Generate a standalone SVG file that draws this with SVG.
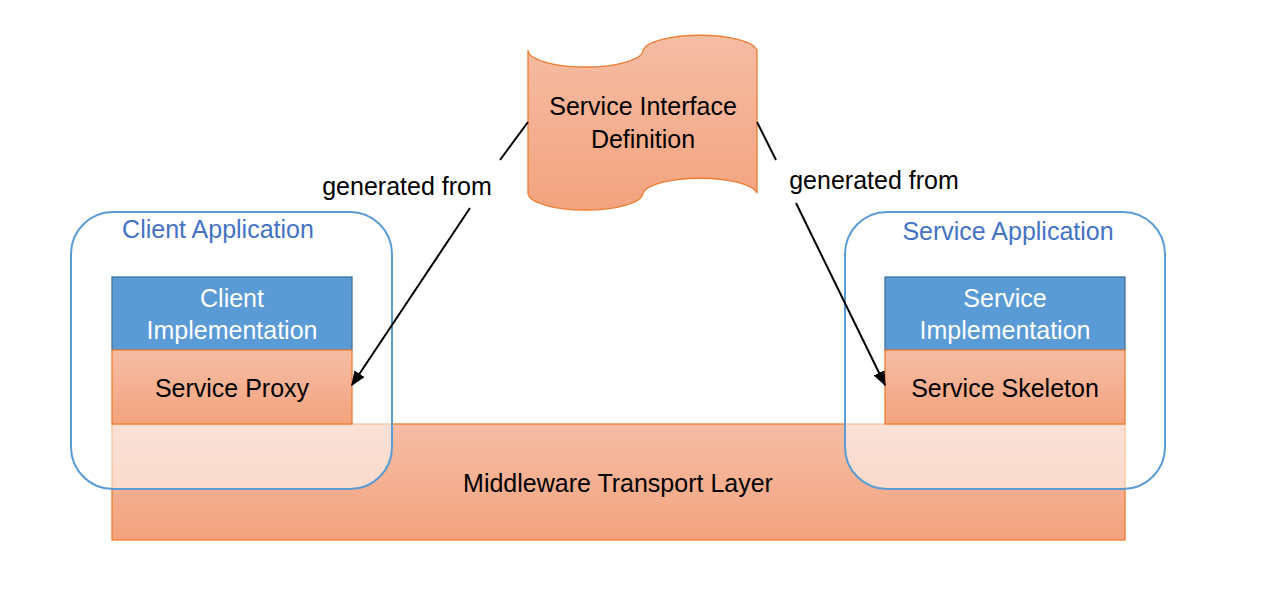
<svg xmlns="http://www.w3.org/2000/svg" width="1288" height="606" viewBox="0 0 1288 606">
<defs>
<linearGradient id="og" x1="0" y1="0" x2="0" y2="1">
<stop offset="0" stop-color="#f6bda5"/>
<stop offset="1" stop-color="#f3a37e"/>
</linearGradient>
<marker id="ah" viewBox="0 0 10 10" refX="9" refY="5" markerWidth="15" markerHeight="12" markerUnits="userSpaceOnUse" orient="auto" preserveAspectRatio="none">
<path d="M0,0 L10,5 L0,10 Z" fill="#000"/>
</marker>
<style>
.t{font-family:"Liberation Sans",Arial,sans-serif;font-size:25px;text-anchor:middle;fill:#000}
.w{fill:#fff}
.b{fill:#4472c4}
.orange{fill:url(#og);stroke:#ed7d31;stroke-width:1.3}
.blue{fill:#5b9bd5;stroke:#41719c;stroke-width:1.3}
.cont{fill:#fff;fill-opacity:0.55;stroke:#5b9bd5;stroke-width:2}
.conn{stroke:#000;stroke-width:2;fill:none}
</style>
</defs>
<rect width="1288" height="606" fill="#fff"/>
<g id="middleware">
<rect class="orange" x="112" y="424" width="1013" height="116"/>
<text class="t" x="618" y="492">Middleware Transport Layer</text>
</g>
<g id="client-app">
<rect class="cont" x="71" y="212" width="321" height="277" rx="42"/>
<text class="t b" x="218" y="238">Client Application</text>
</g>
<g id="service-app">
<rect class="cont" x="845" y="212" width="320" height="277" rx="42"/>
<text class="t b" x="1008" y="240">Service Application</text>
</g>
<g id="client-impl">
<rect class="blue" x="112" y="277" width="240" height="73"/>
<text class="t w" x="232" y="307">Client</text>
<text class="t w" x="232" y="339">Implementation</text>
</g>
<g id="service-proxy">
<rect class="orange" x="112" y="350" width="240" height="74"/>
<text class="t" x="232" y="397">Service Proxy</text>
</g>
<g id="service-impl">
<rect class="blue" x="885" y="277" width="240" height="73"/>
<text class="t w" x="1005" y="307">Service</text>
<text class="t w" x="1005" y="339">Implementation</text>
</g>
<g id="service-skeleton">
<rect class="orange" x="885" y="350" width="240" height="74"/>
<text class="t" x="1005" y="397">Service Skeleton</text>
</g>
<g id="interface-def">
<path class="orange" d="M528,50 A57.5,17 0 0 0 643,50 A57.5,17 0 0 1 757,50 L757,193 A57.5,17 0 0 0 643,193 A57.5,17 0 0 1 528,193 Z"/>
<text class="t" x="643" y="115">Service Interface</text>
<text class="t" x="643" y="148">Definition</text>
</g>
<g id="connectors">
<line class="conn" x1="528" y1="122" x2="500" y2="160"/>
<line class="conn" x1="470" y1="208" x2="352" y2="385" marker-end="url(#ah)"/>
<text class="t" x="407" y="195">generated from</text>
<line class="conn" x1="757" y1="122" x2="776" y2="160"/>
<line class="conn" x1="796" y1="203" x2="885" y2="385" marker-end="url(#ah)"/>
<text class="t" x="874" y="189">generated from</text>
</g>
</svg>
